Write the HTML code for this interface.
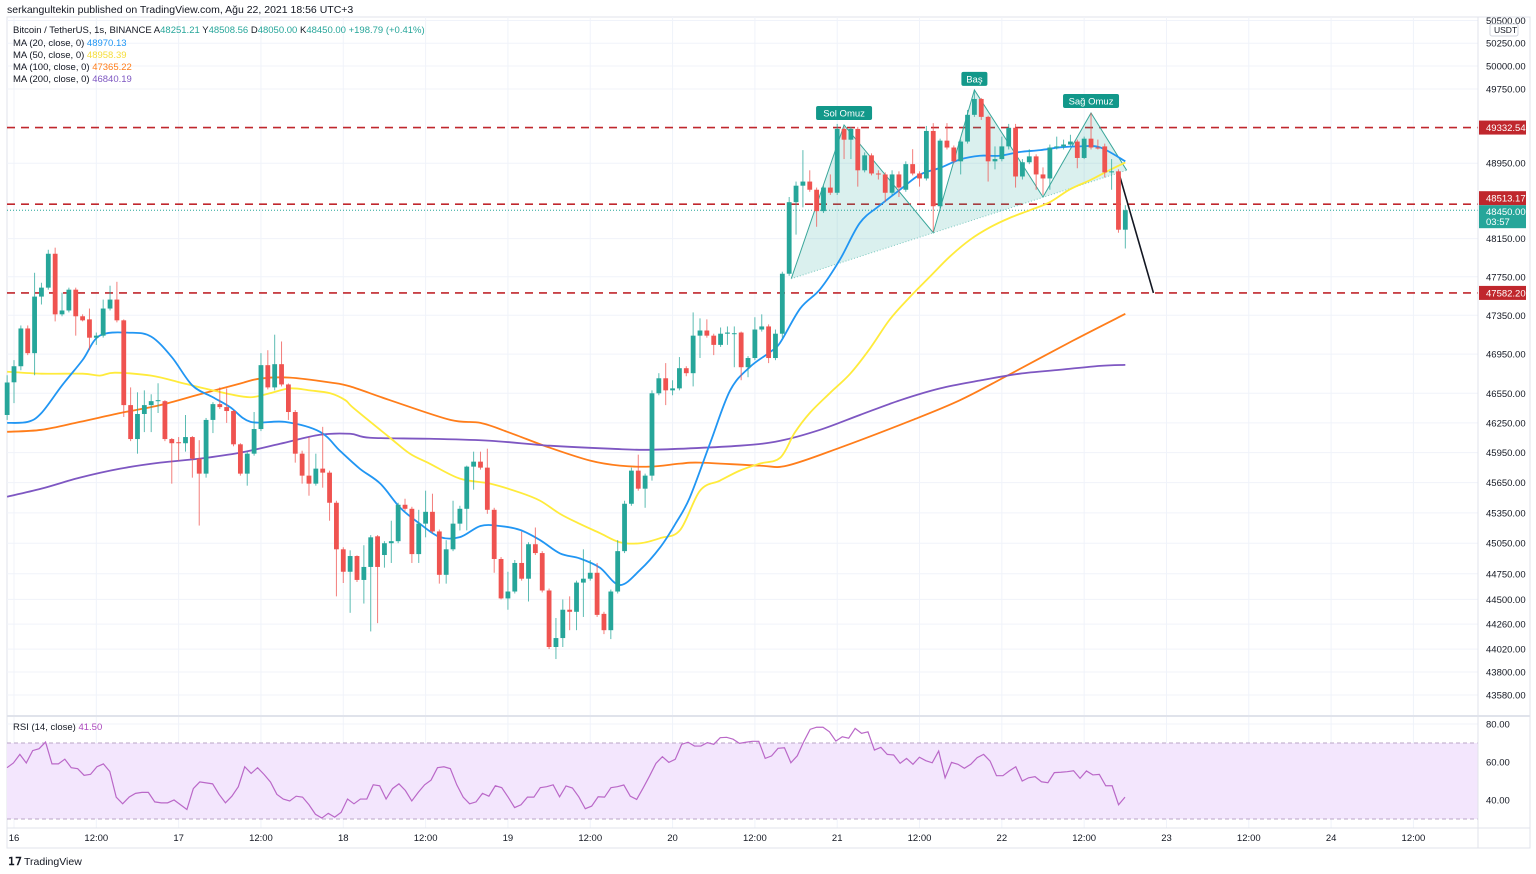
<!DOCTYPE html>
<html><head><meta charset="utf-8"><style>
html,body{margin:0;padding:0;background:#fff;width:1536px;height:874px;overflow:hidden;font-family:"Liberation Sans","DejaVu Sans",sans-serif;}
svg text{font-family:"Liberation Sans","DejaVu Sans",sans-serif;}
</style></head><body>
<svg id="chart" width="1536" height="874" viewBox="0 0 1536 874" xmlns="http://www.w3.org/2000/svg">
<rect x="0" y="0" width="1536" height="874" fill="#ffffff"/>
<text x="7" y="13" font-size="10.5" fill="#131722">serkangultekin published on TradingView.com, Ağu 22, 2021 18:56 UTC+3</text>
<rect x="7" y="17" width="1523" height="831" fill="none" stroke="#e0e3eb"/>
<g id="grid"></g>
<rect x="7" y="743" width="1471" height="76" fill="#f3e6fd"/>
<line x1="7" y1="743" x2="1478" y2="743" stroke="#b9a6c6" stroke-dasharray="4,3"/>
<line x1="7" y1="819" x2="1478" y2="819" stroke="#b9a6c6" stroke-dasharray="4,3"/>
<g id="levels"></g>
<g id="pattern"></g>
<g id="mas"></g>
<g id="candles"></g>
<g id="rsi"></g>
<g id="axes"></g>
<line x1="1478" y1="17" x2="1478" y2="848" stroke="#e0e3eb"/>
<line x1="7" y1="716" x2="1530" y2="716" stroke="#e0e3eb" stroke-width="2"/>
<line x1="7" y1="828" x2="1530" y2="828" stroke="#e0e3eb"/>
<g font-size="9.5">
<text x="13" y="33" fill="#131722">Bitcoin / TetherUS, 1s, BINANCE  A<tspan fill="#26a69a">48251.21</tspan>  Y<tspan fill="#26a69a">48508.56</tspan>  D<tspan fill="#26a69a">48050.00</tspan>  K<tspan fill="#26a69a">48450.00</tspan>  <tspan fill="#26a69a">+198.79 (+0.41%)</tspan></text>
<text x="13" y="46" fill="#131722">MA (20, close, 0)  <tspan fill="#2196f3">48970.13</tspan></text>
<text x="13" y="58" fill="#131722">MA (50, close, 0)  <tspan fill="#f5dd3b">48958.39</tspan></text>
<text x="13" y="70" fill="#131722">MA (100, close, 0)  <tspan fill="#ff7d1a">47365.22</tspan></text>
<text x="13" y="82" fill="#131722">MA (200, close, 0)  <tspan fill="#7e57c2">46840.19</tspan></text>
<text x="13" y="730" fill="#131722">RSI (14, close)  <tspan fill="#ab47bc">41.50</tspan></text>
</g>
<g>
<text x="8" y="865" font-size="11" font-weight="bold" fill="#131722">𝟣𝟩</text>
<text x="24" y="865" font-size="10.5" fill="#131722">TradingView</text>
</g>
</svg>
<script>
const priceTicks = [50500,50250,50000,49750,48950,48150,47750,47350,46950,46550,46250,45950,45650,45350,45050,44750,44500,44260,44020,43800,43580];
const timeTickHours = [0,12,24,36,48,60,72,84,96,108,120,132,144,156,168,180,192,204];
const timeTickLabels = ["16","12:00","17","12:00","18","12:00","19","12:00","20","12:00","21","12:00","22","12:00","23","12:00","24","12:00"];
const rsiTicks = [80,60,40];
const levelPrices = [49332.54,48513.17,47582.20];
const lastPrice = 48450.00;
const opens = [46330,46662,46826,47214,46960,47544,47637,47991,47360,47400,47616,47340,47308,47119,47140,47420,47513,47298,46430,46087,46340,46430,46470,46470,46087,46055,46045,46107,45890,45740,46280,46440,46410,46370,46034,45740,45940,46188,46837,46610,46847,46640,46360,45940,45720,45640,45790,45750,45450,44990,44770,44924,44690,44817,45118,44934,45050,45070,45430,45390,44943,45243,45360,45166,44740,44990,45243,45390,45810,45860,45800,45380,44895,44510,44577,44856,44702,45040,44953,44587,44040,44126,44400,44380,44664,44702,44760,44360,44202,44577,44972,45440,45770,45590,45720,46550,46703,46580,46600,46806,46755,47140,47193,47140,47045,47160,47160,47172,46816,46910,47203,47235,46910,47160,47782,48535,48710,48754,48667,48440,48690,48635,49318,49202,49318,48874,49034,48840,48830,48635,48830,48667,48940,48840,48787,49296,48492,49192,49118,48970,49182,49470,49642,49448,48970,48994,49130,49330,48808,48960,49023,48830,48787,49118,49130,49150,49182,49006,49213,49118,49130,48852,48863,48244];
const highs = [46734,46888,47245,47245,47792,47688,48033,48055,47585,47637,47637,47360,47420,47172,47513,47657,47698,47308,46610,46560,46580,46540,46652,46480,46097,46107,46330,46117,46076,46300,46460,46610,46600,46380,46045,45960,46360,46960,46990,47150,47080,46650,46380,45970,46107,45940,46210,45770,45470,45010,44980,44930,45030,45130,45130,45070,45272,45450,45490,45410,45380,45570,45540,45185,45080,45470,45420,45820,45960,45960,45990,45400,44914,44770,44885,45166,45060,45205,44972,44606,44320,44500,44530,44683,44990,44885,44856,44380,44596,45080,45470,45800,45930,45740,46580,46755,46858,46683,46920,46826,47380,47318,47308,47160,47224,47235,47235,47182,46930,47330,47360,47256,47203,47803,48590,48754,49090,48874,48690,48710,48830,49372,49340,49340,49340,49066,49055,48874,48852,48874,48863,48970,49100,48863,49350,49380,49213,49380,49140,49203,49523,49740,49653,49460,49130,49235,49372,49372,48994,49100,49045,48906,49150,49235,49203,49255,49203,49235,49490,49203,49160,48994,48885,48503];
const lows = [46280,46450,46785,46940,46734,47462,47616,47287,47340,47380,47140,47287,46993,47045,47120,47400,47277,46310,46066,45940,46157,46157,46350,46066,45640,45870,45960,45700,45224,45700,46147,46390,46250,46014,45720,45620,45920,46167,46590,46580,46620,46280,45850,45640,45520,45620,45600,45272,44530,44660,44370,44670,44460,44190,44270,44810,44856,45050,45370,44856,44856,45108,45147,44654,44654,44972,45176,45176,45580,45780,45340,44760,44500,44400,44558,44683,44480,44934,44568,44020,43924,44040,44202,44202,44330,44683,44330,44164,44116,44558,44953,45420,45570,45400,45670,46530,46430,46530,46580,46724,46620,46910,47119,46940,47024,47045,46816,46683,46714,46888,47182,46858,46888,47119,47760,48192,48480,48645,48275,48420,48612,48612,48994,48994,48700,48852,48820,48776,48535,48612,48590,48645,48820,48700,48765,48222,48470,49097,48950,48830,49160,49448,49415,48754,48884,48970,49097,48690,48776,48940,48667,48612,48667,49097,49097,49130,48896,48994,49097,49097,48797,48667,48212,48046];
const closes = [46660,46826,47214,46960,47544,47637,47991,47360,47400,47616,47340,47298,47119,47140,47420,47513,47298,46430,46087,46340,46430,46470,46480,46087,46045,46045,46107,45890,45740,46280,46440,46410,46370,46034,45740,45940,46188,46837,46610,46847,46640,46360,45940,45720,45640,45790,45750,45450,44990,44770,44924,44690,44817,45108,44817,45050,45070,45430,45390,44943,45243,45360,45166,44740,44990,45243,45390,45810,45860,45800,45380,44895,44510,44577,44856,44702,45040,44953,44587,44040,44126,44400,44380,44664,44702,44760,44350,44202,44577,44972,45440,45770,45590,45720,46550,46703,46580,46600,46806,46755,47140,47193,47140,47045,47160,47172,47165,46816,46910,47203,47235,46910,47160,47782,48535,48710,48754,48667,48440,48690,48635,49318,49202,49318,48874,49034,48840,48830,48635,48830,48690,48940,48840,48787,49296,48492,49192,49118,48970,49182,49470,49642,49448,48970,48994,49130,49330,48808,48960,49023,48830,48787,49118,49130,49150,49182,49006,49213,49118,49108,48852,48863,48244,48450];
const ma20Hours = [-1,2,4,7,10,12.5,17,20,23,26,29,31.5,34.5,39.5,44.6,47.5,50.4,53.4,56.3,59.2,62.1,65,68,70.8,73.8,76.7,79.6,82.5,85.4,88.3,91.3,94.2,96.4,98.5,101.5,104.4,107.3,110.2,111.7,114.6,117.5,120.4,123.3,126.2,129.2,132.1,135,137.9,140.8,143.7,146.6,149.6,152.5,155.4,158.3,162];
const ma20Vals = [46250,46260,46350,46630,46890,47140,47170,47130,46920,46630,46510,46410,46260,46260,46160,45970,45790,45640,45400,45240,45110,45110,45220,45220,45180,45080,44950,44900,44810,44640,44790,45010,45240,45500,46050,46580,46820,46970,47070,47420,47620,47930,48315,48500,48670,48830,48900,48990,49030,49030,49070,49090,49120,49130,49120,48970];
const ma50Hours = [-1,4,10,12.5,14.7,20,24.2,27.1,31.5,34.5,37.3,40.2,43.1,46.1,48.3,49.5,54.8,57.7,60.6,65,69.4,73.8,76.7,79.6,82.5,85.4,88.3,91.3,94.2,97.1,100,102.9,105.8,108.7,111.7,113.8,116,118.9,121.9,124.8,127.7,130.6,133.5,136.4,139.4,142.3,145.2,148.1,151,153.9,156.9,159.8,162];
const ma50Vals = [46770,46750,46750,46730,46760,46730,46660,46610,46540,46510,46550,46600,46580,46550,46480,46400,46100,45940,45840,45690,45640,45550,45470,45340,45240,45150,45060,45050,45100,45180,45570,45670,45770,45840,45900,46150,46350,46550,46750,47010,47310,47540,47750,47960,48140,48270,48370,48450,48535,48670,48770,48880,48958];
const ma100Hours = [-1,4,9.6,15.5,21.3,27.1,33,35.9,40.2,46.1,49,54.8,63.6,68,72.3,78.1,84,88.3,92.7,97.1,100,108.7,112.7,120.4,131,137.9,144.8,154.4,162];
const ma100Vals = [46160,46180,46260,46350,46430,46540,46650,46700,46710,46660,46620,46480,46280,46250,46150,46000,45870,45820,45810,45840,45850,45820,45820,46000,46280,46480,46730,47090,47365];
const ma200Hours = [-1,4,9.6,15.5,21.3,27.1,33,38.8,44.6,49,51.9,60.6,69.4,78.1,86.9,93.2,105.8,111.7,117.5,123.3,129.2,135,140.8,146.6,152.5,158.3,162];
const ma200Vals = [45510,45590,45700,45790,45850,45890,45950,46040,46130,46140,46100,46090,46070,46020,45990,45980,46020,46070,46180,46330,46480,46600,46680,46750,46790,46830,46840];
const rsiVals = [57,59.5,64,59.5,66,67,70.5,59,59,61.5,57,56.5,53,53.5,57.5,59,55,41.5,38,41.5,43.5,44,44,39,38.5,38.5,40,37.5,35,46,49.5,49,48.5,43,38.5,42,47,57.5,54,57,53.5,49.5,43,40.5,39.5,42,41.5,37.5,32.5,30.5,33,31,33.5,40.5,38,40.5,40.5,48,47.5,40.5,46,48.5,45,39.5,44,48,50.5,57,57.5,56.5,48,41.5,38,39,43.5,42,47.5,46.5,41.5,36,37.5,41.5,41.5,46.5,47,48,
41.7,47.4,46.3,41.6,35.4,36.8,41.7,41.5,46.5,47,47.9,42,40.3,46.3,52.6,59.3,62.8,59.8,61.4,69.3,70.4,68.4,68.4,70.2,69.3,72.8,73,72,69.8,70.4,70.9,70.9,61.9,63.2,67.2,67.5,59.6,63.3,70.7,77.2,78.3,78.3,75.9,71,73.3,72.5,77.7,75.1,75.9,66.3,67.7,64,63.7,59.3,61.9,58.8,62.5,60.7,59.6,65.8,51.7,59.8,58.8,56.7,58.8,62.3,64,60.5,52.8,52.8,55.3,57.5,50,51.7,52.3,49.6,49.1,54.4,54.6,54.9,55.4,51.4,55.3,53.2,53.5,47.5,47.5,37.5,41.5];
const patternHours = [113.3,121,134,140,150,157,162.2];
const patternPrices = [47730,49360,48212,49740,48590,49490,48874];
const arrowHours = [161.2,166.1];
const arrowPrices = [48810,47582.2];

const NS="http://www.w3.org/2000/svg";
function yP(p){return 89+4577*Math.log(49750/p);}
function xH(h){return 14+h*6.86;}
function yR(v){return 762-(v-60)*1.9;}
function mk(tag,attrs,parent){const e=document.createElementNS(NS,tag);for(const k in attrs)e.setAttribute(k,attrs[k]);parent.appendChild(e);return e;}
function smooth(P){let d='M'+P[0][0]+','+P[0][1];for(let i=0;i < P.length-1;i++){const p0=P[i-1]||P[i],p1=P[i],p2=P[i+1],p3=P[i+2]||p2;
const c1x=p1[0]+(p2[0]-p0[0])/6,c1y=p1[1]+(p2[1]-p0[1])/6,c2x=p2[0]-(p3[0]-p1[0])/6,c2y=p2[1]-(p3[1]-p1[1])/6;
d+=' C'+c1x+','+c1y+' '+c2x+','+c2y+' '+p2[0]+','+p2[1];}return d;}
const grid=document.getElementById('grid');
priceTicks.forEach(p=>{const l=mk('line',{x1:7,x2:1478,y1:yP(p),y2:yP(p),stroke:'#f0f3fa'},grid);

});
rsiTicks.forEach(v=>{const l=mk('line',{x1:7,x2:1478,y1:yR(v),y2:yR(v),stroke:'#f0f3fa'},grid);

});
timeTickHours.forEach(h=>{const l=mk('line',{x1:xH(h),x2:xH(h),y1:17,y2:828,stroke:'#f0f3fa'},grid);

});

const axes=document.getElementById('axes');
priceTicks.forEach(p=>{const t=mk('text',{x:1486,y:yP(p)+3.5,'font-size':'9.5',fill:'#131722'},axes);t.textContent=p.toFixed(2);

});
const ub=mk('rect',{x:1490,y:24,width:28,height:12,rx:2,fill:'#fff',stroke:'#d1d4dc'},axes);


const ut=mk('text',{x:1494,y:33,'font-size':'8.5',fill:'#131722'},axes);ut.textContent='USDT';


rsiTicks.forEach(v=>{const t=mk('text',{x:1486,y:yR(v)+3.5,'font-size':'9.5',fill:'#131722'},axes);t.textContent=v.toFixed(2);

});
timeTickHours.forEach((h,i)=>{const t=mk('text',{x:xH(h),y:841,'font-size':'9.5',fill:'#131722','text-anchor':'middle'},axes);t.textContent=timeTickLabels[i];

});

const lv=document.getElementById('levels');
const cl=mk('line',{x1:7,x2:1478,y1:yP(lastPrice),y2:yP(lastPrice),stroke:'#26a69a','stroke-dasharray':'1,2'},lv);


const lastTop=yP(lastPrice)-5;
levelPrices.forEach(p=>{const l=mk('line',{x1:7,x2:1478,y1:yP(p),y2:yP(p),stroke:'#c0272d','stroke-width':1.6,'stroke-dasharray':'8,6'},lv);


let cy=yP(p);if(Math.abs(cy-yP(lastPrice)) < 16)cy=lastTop-7;
const r=mk('rect',{x:1479,y:cy-7,width:47,height:14,fill:'#c0272d'},axes);


const t=mk('text',{x:1486,y:cy+3.5,'font-size':'9.5',fill:'#fff'},axes);t.textContent=p.toFixed(2);

});
const lb=mk('rect',{x:1479,y:lastTop,width:47,height:23,fill:'#26a69a'},axes);


const lt=mk('text',{x:1486,y:lastTop+10,'font-size':'9.5',fill:'#fff'},axes);lt.textContent=lastPrice.toFixed(2);


const lt2=mk('text',{x:1486,y:lastTop+20,'font-size':'9.5',fill:'#fff'},axes);lt2.textContent='03:57';



const pat=document.getElementById('pattern');
const pts=patternHours.map((h,i)=>xH(h)+','+yP(patternPrices[i])).join(' ');
const poly=mk('polygon',{points:pts,fill:'rgba(38,166,154,0.17)',stroke:'none'},pat);


const pl=mk('polyline',{points:pts,fill:'none',stroke:'#3aa69a','stroke-width':1},pat);


const nk=mk('line',{x1:xH(patternHours[0]),y1:yP(patternPrices[0]),x2:xH(patternHours[6]),y2:yP(patternPrices[6]),stroke:'#7cc9c0','stroke-dasharray':'1,2'},pat);


[['Sol Omuz',1,-12],['Baş',3,-11],['Sağ Omuz',5,-12]].forEach(([txt,i,dy])=>{
const cx=xH(patternHours[i]),cy=yP(patternPrices[i])+dy;
const w=txt.length*6+8;
const r=mk('rect',{x:cx-w/2,y:cy-7,width:w,height:14,rx:2,fill:'#12988a'},pat);


const t=mk('text',{x:cx,y:cy+3.5,'font-size':'9.5',fill:'#fff','text-anchor':'middle'},pat);t.textContent=txt;

});
const ar=mk('line',{x1:xH(arrowHours[0]),y1:yP(arrowPrices[0]),x2:xH(arrowHours[1]),y2:yP(arrowPrices[1]),stroke:'#131722','stroke-width':1.6},pat);



const mas=document.getElementById('mas');
[[ma100Hours,ma100Vals,'#ff7d1a','ma100-line'],[ma200Hours,ma200Vals,'#7e57c2','ma200-line'],[ma50Hours,ma50Vals,'#ffeb3b','ma50-line'],[ma20Hours,ma20Vals,'#2196f3','ma20-line']].forEach(([hs,vs,c,n])=>{
const p=mk('path',{d:smooth(hs.map((h,i)=>[xH(h),yP(vs[i])])),fill:'none',stroke:c,'stroke-width':1.8,'stroke-linejoin':'round'},mas);

});

const cg=document.getElementById('candles');
closes.forEach((c,i)=>{const h=i-1,o=opens[i],x=xH(h);const up=c>=o;const col=up?'#26a69a':'#ef5350';
const w=mk('line',{x1:x,x2:x,y1:yP(highs[i]),y2:yP(lows[i]),stroke:col,'stroke-width':1,opacity:0.75},cg);


const top=yP(Math.max(o,c)),bot=yP(Math.min(o,c));
const b=mk('rect',{x:x-2.4,y:top,width:4.8,height:Math.max(1,bot-top),fill:col},cg);

});

const rg=document.getElementById('rsi');
const n=rsiVals.length;
const rl=mk('polyline',{points:rsiVals.map((v,i)=>(7+i*(1125-7)/(n-1))+','+yR(v)).join(' '),fill:'none',stroke:'#ba68c8','stroke-width':1.2},rg);


</script>
</body></html>
